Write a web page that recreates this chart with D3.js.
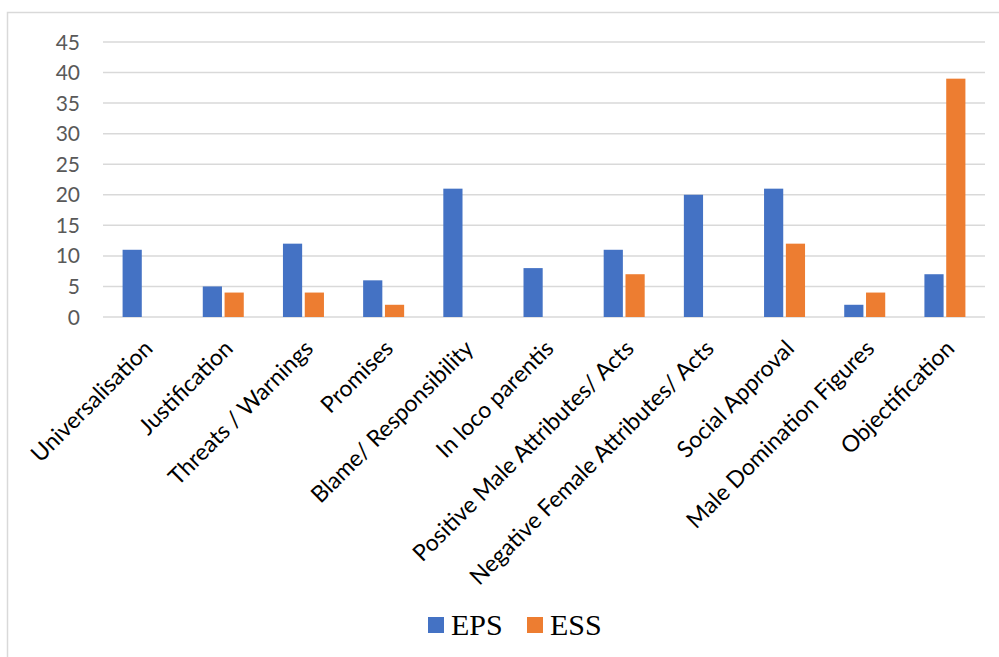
<!DOCTYPE html>
<html lang="en">
<head>
  <meta charset="utf-8">
  <title>EPS vs ESS</title>
  <script src="https://d3js.org/d3.v7.min.js"></script>
  <style>
    body { margin: 0; background: #fff; }
    .tick-label { font-family: Lato, 'Open Sans', sans-serif; font-size: 21px; fill: #595959; }
    .cat-label { font-family: Lato, 'Open Sans', sans-serif; font-size: 23px; fill: #000; }
    .legend-label { font-family: 'Liberation Serif', 'DejaVu Serif', serif; font-size: 30px; fill: #000; }
  </style>
</head>
<body>
<div id="chart"></div>
<script>
  // data
  var categories = ["Universalisation", "Justification", "Threats / Warnings", "Promises",
    "Blame/ Responsibility", "In loco parentis", "Positive Male Attributes/ Acts",
    "Negative Female Attributes/ Acts", "Social Approval", "Male Domination Figures", "Objectification"];
  var epsValues = [11, 5, 12, 6, 21, 8, 11, 20, 21, 2, 7];
  var essValues = [0, 4, 4, 2, 0, 0, 7, 0, 12, 4, 39];
  var seriesNames = ["EPS", "ESS"];
  var yTicks = [0, 5, 10, 15, 20, 25, 30, 35, 40, 45];

  var W = 999, H = 657;
  var colors = {EPS: "#4472C4", ESS: "#ED7D31"};

  var svg = d3.select("#chart").append("svg")
    .attr("width", W).attr("height", H);

  // outer chart frame (right/bottom fall outside the picture)
  svg.append("rect")
    .attr("x", 7.5).attr("y", 12.5)
    .attr("width", 1000).attr("height", 700)
    .attr("fill", "none").attr("stroke", "#d9d9d9").attr("stroke-width", 1.5);

  var x0 = d3.scaleBand().domain(categories).range([103, 985]);
  var y = d3.scaleLinear().domain([0, 45]).range([317, 42]);

  // gridlines
  svg.append("g").selectAll("line")
    .data(yTicks)
    .join("line")
    .attr("x1", 103).attr("x2", 985)
    .attr("y1", function (d) { return y(d); })
    .attr("y2", function (d) { return y(d); })
    .attr("stroke", "#d9d9d9").attr("stroke-width", 1.5);

  // y tick labels
  svg.append("g").selectAll("text")
    .data(yTicks)
    .join("text")
    .attr("class", "tick-label")
    .attr("x", 80)
    .attr("y", function (d) { return y(d); })
    .attr("dy", "0.36em")
    .attr("text-anchor", "end")
    .text(function (d) { return d; });

  // bars
  var rows = categories.map(function (c, i) {
    return {cat: c, EPS: epsValues[i], ESS: essValues[i]};
  });
  var x1 = d3.scaleBand().domain(seriesNames).range([-20.5, 20.5]).paddingInner(0.12);

  var groups = svg.append("g").selectAll("g")
    .data(rows)
    .join("g")
    .attr("transform", function (d) { return "translate(" + (x0(d.cat) + x0.bandwidth() / 2) + ",0)"; });

  groups.selectAll("rect")
    .data(function (d) { return seriesNames.map(function (s) { return {key: s, value: d[s]}; }); })
    .join("rect")
    .attr("x", function (d) { return x1(d.key); })
    .attr("width", x1.bandwidth())
    .attr("y", function (d) { return y(d.value); })
    .attr("height", function (d) { return y(0) - y(d.value); })
    .attr("fill", function (d) { return colors[d.key]; });

  // category labels, rotated
  svg.append("g").selectAll("text")
    .data(categories)
    .join("text")
    .attr("class", "cat-label")
    .attr("text-anchor", "end")
    .attr("transform", function (d) {
      var cx = x0(d) + x0.bandwidth() / 2 + 11;
      return "translate(" + cx + ",350) rotate(-45)";
    })
    .text(function (d) { return d; });

  // legend
  var legend = svg.append("g").selectAll("g")
    .data(seriesNames)
    .join("g")
    .attr("transform", function (d, i) { return "translate(" + (428 + i * 99) + ",617)"; });
  legend.append("rect")
    .attr("width", 16).attr("height", 16)
    .attr("fill", function (d) { return colors[d]; });
  legend.append("text")
    .attr("class", "legend-label")
    .attr("x", 23).attr("y", 18)
    .text(function (d) { return d; });
</script>
</body>
</html>
